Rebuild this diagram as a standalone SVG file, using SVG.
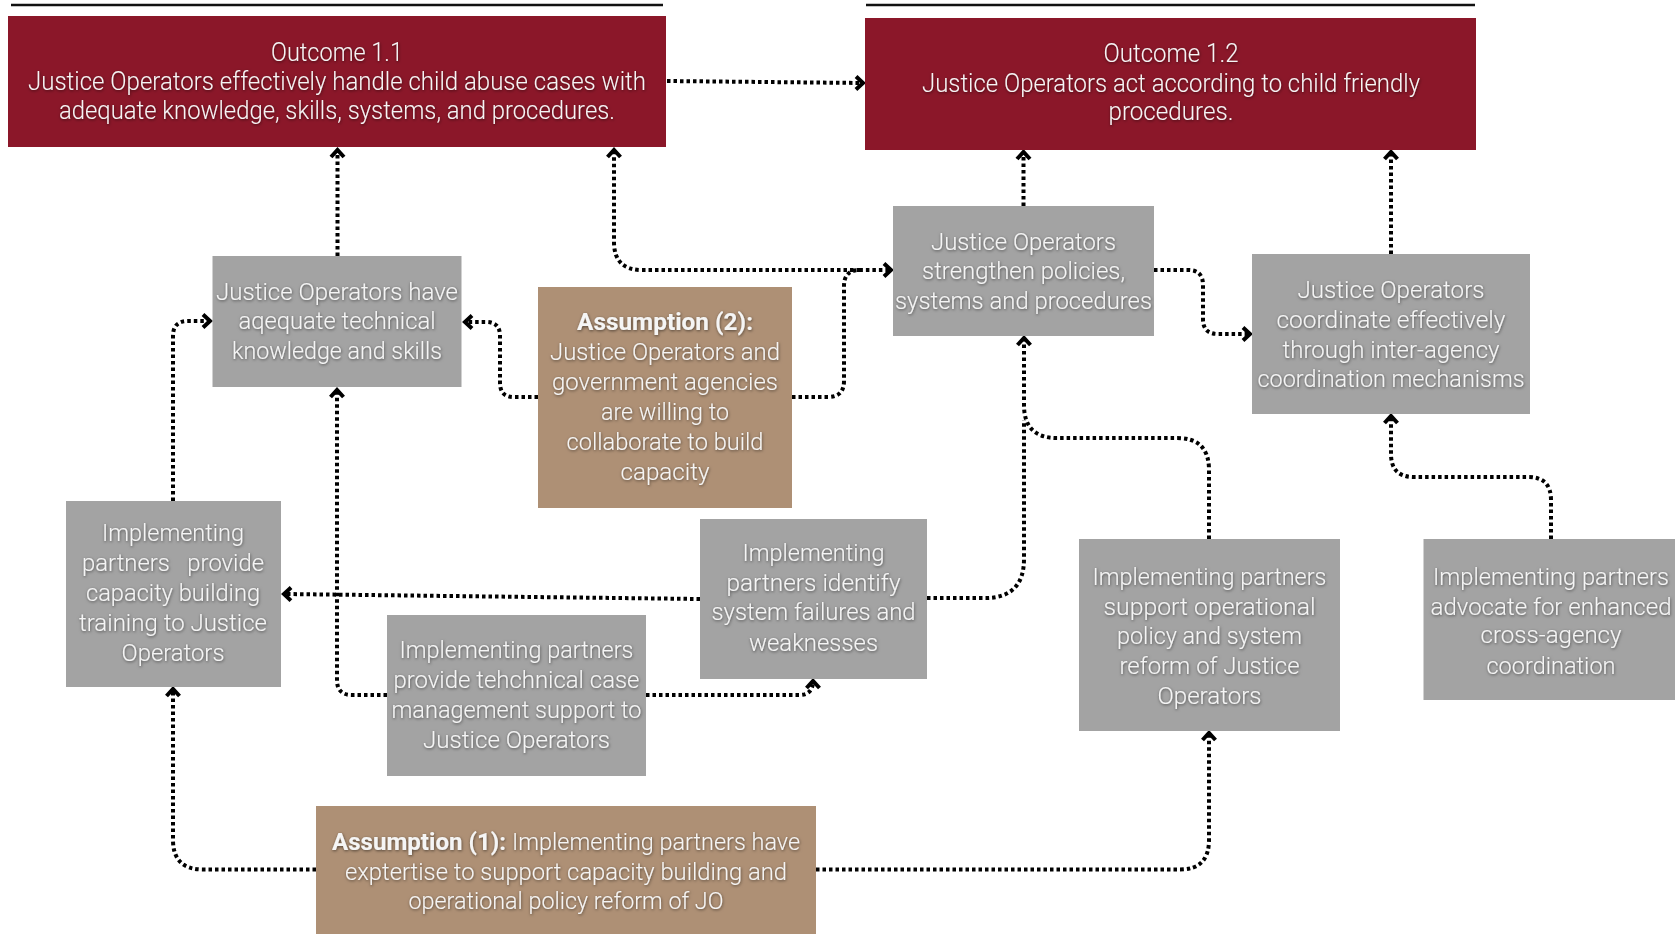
<svg xmlns="http://www.w3.org/2000/svg" width="1675" height="934" viewBox="0 0 1675 934">
<style>
.out{fill:#8B1729}
.act{fill:#A3A3A3}
.asm{fill:#AE9075}
.t{font-family:Roboto,"Liberation Sans",sans-serif;font-weight:300;font-size:23.5px;fill:#F5F5F5;text-anchor:middle}
.to{font-size:25px}
.b{font-weight:700}
.c{fill:none;stroke:#000;stroke-width:4;stroke-dasharray:3.5 3}
.rule{stroke:#111;stroke-width:2.5}
</style>
<defs>
<filter id="sh" x="-10%" y="-30%" width="120%" height="160%">
<feDropShadow dx="0.5" dy="1" stdDeviation="1.5" flood-color="#000" flood-opacity="0.55"/>
</filter>
<marker id="ah" markerUnits="userSpaceOnUse" markerWidth="18" markerHeight="18" refX="10" refY="9" orient="auto">
<path d="M3,2.5 L10,9 L3,15.5" fill="none" stroke="#000" stroke-width="4" stroke-linejoin="miter"/>
</marker>
</defs>

<line class="rule" x1="11" y1="5" x2="663" y2="5"/>
<line class="rule" x1="866" y1="5" x2="1475" y2="5"/>

<g id="connectors">
<path class="c" d="M667,81 L863,83" marker-end="url(#ah)"/>
<path class="c" d="M337.5,256 V150" marker-end="url(#ah)"/>
<path class="c" d="M538,397 H514 Q500,397 500,383 V336 Q500,322 486,322 H465" marker-end="url(#ah)"/>
<path class="c" d="M792,397 H828 Q844,397 844,381 V286 Q844,270 860,270 H891" marker-end="url(#ah)"/>
<path class="c" d="M860,270 H642 Q614,270 614,242 V150" marker-end="url(#ah)"/>
<path class="c" d="M1023.5,206 V152" marker-end="url(#ah)"/>
<path class="c" d="M1154,270 H1188 Q1203,270 1203,285 V319 Q1203,334 1218,334 H1250" marker-end="url(#ah)"/>
<path class="c" d="M1391,254 V152" marker-end="url(#ah)"/>
<path class="c" d="M1551,539 V500 Q1551,477 1528,477 H1414 Q1391,477 1391,454 V416" marker-end="url(#ah)"/>
<path class="c" d="M1209,539 V470 Q1209,438 1177,438 H1057 Q1024,438 1024,405 V338" marker-end="url(#ah)"/>
<path class="c" d="M927,598 H985 Q1024,598 1024,559 V420"/>
<path class="c" d="M700,599 L284,594" marker-end="url(#ah)"/>
<path class="c" d="M387,695 H352 Q337,695 337,680 V390" marker-end="url(#ah)"/>
<path class="c" d="M646,695 H799 Q813,695 813,681" marker-end="url(#ah)"/>
<path class="c" d="M173,501 V336 Q173,321 188,321 H210" marker-end="url(#ah)"/>
<path class="c" d="M316,869.5 H203 Q173,869.5 173,840 V689" marker-end="url(#ah)"/>
<path class="c" d="M816,869.5 H1180 Q1209,869.5 1209,840 V733" marker-end="url(#ah)"/>
</g>

<g id="outcome11">
<rect class="out" x="8" y="16" width="658" height="131"/>
<g filter="url(#sh)">
<text class="t to" x="337" y="61" textLength="132" lengthAdjust="spacingAndGlyphs">Outcome 1.1</text>
<text class="t to" x="337" y="90" textLength="618" lengthAdjust="spacingAndGlyphs">Justice Operators effectively handle child abuse cases with</text>
<text class="t to" x="337" y="119" textLength="556" lengthAdjust="spacingAndGlyphs">adequate knowledge, skills, systems, and procedures.</text>
</g>
</g>

<g id="outcome12">
<rect class="out" x="865" y="18" width="611" height="132"/>
<g filter="url(#sh)">
<text class="t to" x="1171" y="62" textLength="135" lengthAdjust="spacingAndGlyphs">Outcome 1.2</text>
<text class="t to" x="1171" y="92" textLength="498" lengthAdjust="spacingAndGlyphs">Justice Operators act according to child friendly</text>
<text class="t to" x="1171" y="120" textLength="125" lengthAdjust="spacingAndGlyphs">procedures.</text>
</g>
</g>

<g id="jo-knowledge">
<rect class="act" x="212.5" y="256" width="249" height="131"/>
<g filter="url(#sh)">
<text class="t" x="337" y="300" textLength="242" lengthAdjust="spacingAndGlyphs">Justice Operators have</text>
<text class="t" x="337" y="329" textLength="197" lengthAdjust="spacingAndGlyphs">aqequate technical</text>
<text class="t" x="337" y="359" textLength="210" lengthAdjust="spacingAndGlyphs">knowledge and skills</text>
</g>
</g>

<g id="assumption2">
<rect class="asm" x="538" y="287" width="254" height="221"/>
<g filter="url(#sh)">
<text class="t b" x="665" y="330" textLength="176" lengthAdjust="spacingAndGlyphs">Assumption (2):</text>
<text class="t" x="665" y="360" textLength="230" lengthAdjust="spacingAndGlyphs">Justice Operators and</text>
<text class="t" x="665" y="390" textLength="226" lengthAdjust="spacingAndGlyphs">government agencies</text>
<text class="t" x="665" y="420" textLength="128" lengthAdjust="spacingAndGlyphs">are willing to</text>
<text class="t" x="665" y="450" textLength="197" lengthAdjust="spacingAndGlyphs">collaborate to build</text>
<text class="t" x="665" y="480" textLength="89" lengthAdjust="spacingAndGlyphs">capacity</text>
</g>
</g>

<g id="jo-policies">
<rect class="act" x="893" y="206" width="261" height="130"/>
<g filter="url(#sh)">
<text class="t" x="1023.5" y="250" textLength="185" lengthAdjust="spacingAndGlyphs">Justice Operators</text>
<text class="t" x="1023.5" y="279" textLength="203" lengthAdjust="spacingAndGlyphs">strengthen policies,</text>
<text class="t" x="1023.5" y="309" textLength="257" lengthAdjust="spacingAndGlyphs">systems and procedures</text>
</g>
</g>

<g id="jo-coordinate">
<rect class="act" x="1252" y="254" width="278" height="160"/>
<g filter="url(#sh)">
<text class="t" x="1391" y="298" textLength="187" lengthAdjust="spacingAndGlyphs">Justice Operators</text>
<text class="t" x="1391" y="328" textLength="229" lengthAdjust="spacingAndGlyphs">coordinate effectively</text>
<text class="t" x="1391" y="358" textLength="217" lengthAdjust="spacingAndGlyphs">through inter-agency</text>
<text class="t" x="1391" y="387" textLength="267" lengthAdjust="spacingAndGlyphs">coordination mechanisms</text>
</g>
</g>

<g id="ip-training">
<rect class="act" x="66" y="501" width="215" height="186"/>
<g filter="url(#sh)">
<text class="t" x="173" y="541" textLength="142" lengthAdjust="spacingAndGlyphs">Implementing</text>
<text class="t" x="173" y="571" textLength="182" lengthAdjust="spacingAndGlyphs" xml:space="preserve">partners   provide</text>
<text class="t" x="173" y="601" textLength="174" lengthAdjust="spacingAndGlyphs">capacity building</text>
<text class="t" x="173" y="631" textLength="188" lengthAdjust="spacingAndGlyphs">training to Justice</text>
<text class="t" x="173" y="661" textLength="103" lengthAdjust="spacingAndGlyphs">Operators</text>
</g>
</g>

<g id="ip-identify">
<rect class="act" x="700" y="519" width="227" height="160"/>
<g filter="url(#sh)">
<text class="t" x="813.5" y="561" textLength="142" lengthAdjust="spacingAndGlyphs">Implementing</text>
<text class="t" x="813.5" y="591" textLength="174" lengthAdjust="spacingAndGlyphs">partners identify</text>
<text class="t" x="813.5" y="620" textLength="204" lengthAdjust="spacingAndGlyphs">system failures and</text>
<text class="t" x="813.5" y="651" textLength="129" lengthAdjust="spacingAndGlyphs">weaknesses</text>
</g>
</g>

<g id="ip-casemanagement">
<rect class="act" x="387" y="615" width="259" height="161"/>
<g filter="url(#sh)">
<text class="t" x="516.5" y="658" textLength="234" lengthAdjust="spacingAndGlyphs">Implementing partners</text>
<text class="t" x="516.5" y="688" textLength="246" lengthAdjust="spacingAndGlyphs">provide tehchnical case</text>
<text class="t" x="516.5" y="718" textLength="250" lengthAdjust="spacingAndGlyphs">management support to</text>
<text class="t" x="516.5" y="748" textLength="187" lengthAdjust="spacingAndGlyphs">Justice Operators</text>
</g>
</g>

<g id="ip-policyreform">
<rect class="act" x="1079" y="539" width="261" height="192"/>
<g filter="url(#sh)">
<text class="t" x="1209.5" y="585" textLength="234" lengthAdjust="spacingAndGlyphs">Implementing partners</text>
<text class="t" x="1209.5" y="615" textLength="212" lengthAdjust="spacingAndGlyphs">support operational</text>
<text class="t" x="1209.5" y="644" textLength="185" lengthAdjust="spacingAndGlyphs">policy and system</text>
<text class="t" x="1209.5" y="674" textLength="180" lengthAdjust="spacingAndGlyphs">reform of Justice</text>
<text class="t" x="1209.5" y="704" textLength="104" lengthAdjust="spacingAndGlyphs">Operators</text>
</g>
</g>

<g id="ip-advocate">
<rect class="act" x="1423.5" y="539" width="256" height="161"/>
<g filter="url(#sh)">
<text class="t" x="1551" y="585" textLength="236" lengthAdjust="spacingAndGlyphs">Implementing partners</text>
<text class="t" x="1551" y="615" textLength="241" lengthAdjust="spacingAndGlyphs">advocate for enhanced</text>
<text class="t" x="1551" y="643" textLength="141" lengthAdjust="spacingAndGlyphs">cross-agency</text>
<text class="t" x="1551" y="674" textLength="129" lengthAdjust="spacingAndGlyphs">coordination</text>
</g>
</g>

<g id="assumption1">
<rect class="asm" x="316" y="806" width="500" height="140"/>
<g filter="url(#sh)">
<text class="t b" x="419" y="850" textLength="174" lengthAdjust="spacingAndGlyphs">Assumption (1):</text>
<text class="t" x="656" y="850" textLength="288" lengthAdjust="spacingAndGlyphs">Implementing partners have</text>
<text class="t" x="566" y="880" textLength="442" lengthAdjust="spacingAndGlyphs">exptertise to support capacity building and</text>
<text class="t" x="566" y="909" textLength="315" lengthAdjust="spacingAndGlyphs">operational policy reform of JO</text>
</g>
</g>
</svg>
